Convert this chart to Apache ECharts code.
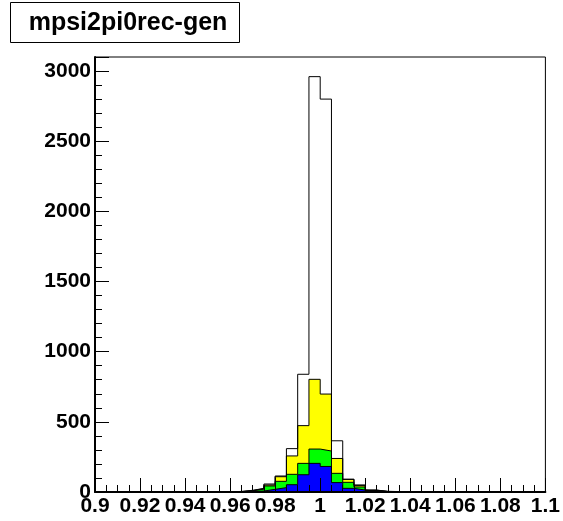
<!DOCTYPE html>
<html>
<head>
<meta charset="utf-8">
<script src="https://cdn.jsdelivr.net/npm/echarts@6/dist/echarts.min.js"></script>
<style>
html, body { margin: 0; padding: 0; background: #fff; }
#chart { width: 563px; height: 521px; }
</style>
</head>
<body>
<div id="chart"></div>
<script>
// Binning: 40 bins of width 0.005 from 0.9 to 1.1
const binLow = 0.9;
const binWidth = 0.005;
const nBins = 40;

// Bin contents for the four overlaid histograms
const totalCounts = [0,0,0,0,0,0,0,0,0,0, 1,2, 4,12,26,57,114,309,839,2960, 2800,365,91,50,14,5,3,2,1,1, 0,0,0,0,0,0,0,0,0,0];
const yellowCounts = [0,0,0,0,0,0,0,0,0,0, 0,1, 3,10,24,50,109,257,473,803, 698,239,90,47,13,4,2,1,0,0, 0,0,0,0,0,0,0,0,0,0];
const greenCounts = [0,0,0,0,0,0,0,0,0,0, 0,1, 2,8,20,43,76,126,204,306, 292,133,69,36,11,3,2,0,0,0, 0,0,0,0,0,0,0,0,0,0];
const blueCounts = [0,0,0,0,0,0,0,0,0,0, 0,0, 1,3,7,19,31,52,123,204, 182,67,26,14,4,1,0,0,0,0, 0,0,0,0,0,0,0,0,0,0];

const titleText = 'mpsi2pi0rec-gen';

// Convert bin contents to step points at the bin edges
function stepPoints(counts) {
  const pts = counts.map((v, i) => [binLow + i * binWidth, v]);
  pts.push([binLow + nBins * binWidth, counts[nBins - 1]]);
  return pts;
}

function histSeries(counts, fill) {
  return {
    type: 'line',
    step: 'end',
    symbol: 'none',
    data: stepPoints(counts),
    lineStyle: { color: '#000', width: 1 },
    areaStyle: { color: fill, opacity: 1 },
    silent: true,
    animation: false
  };
}

const labelFont = { fontFamily: 'Liberation Sans, Arial, sans-serif', fontWeight: 'bold', fontSize: 21, color: '#000' };

const chart = echarts.init(document.getElementById('chart'), null, { renderer: 'canvas' });
chart.setOption({
  animation: false,
  backgroundColor: '#fff',
  grid: { left: 95, right: 15, top: 57, bottom: 29, show: true, borderColor: '#000', borderWidth: 1, backgroundColor: 'transparent' },
  xAxis: {
    type: 'value', min: 0.9, max: 1.1, interval: 0.02, z: 10,
    axisLine: { onZero: false, lineStyle: { color: '#000', width: 2 } },
    axisTick: { inside: true, length: 14, lineStyle: { color: '#000', width: 1 } },
    minorTick: { show: true, splitNumber: 4, length: 7, lineStyle: { color: '#000', width: 1 } },
    splitLine: { show: false },
    axisLabel: Object.assign({ margin: 4, formatter: v => String(parseFloat(v.toFixed(3))) }, labelFont)
  },
  yAxis: {
    type: 'value', min: 0, max: 3100, interval: 500, z: 10,
    axisLine: { lineStyle: { color: '#000', width: 2 } },
    axisTick: { inside: true, length: 14, lineStyle: { color: '#000', width: 1 } },
    minorTick: { show: true, splitNumber: 5, length: 7, lineStyle: { color: '#000', width: 1 } },
    splitLine: { show: false },
    axisLabel: Object.assign({ margin: 4, showMaxLabel: false, formatter: v => String(v) }, labelFont)
  },
  series: [
    histSeries(totalCounts, '#ffffff'),
    histSeries(yellowCounts, '#ffff00'),
    histSeries(greenCounts, '#00ff00'),
    histSeries(blueCounts, '#0000ff')
  ],
  graphic: [
    { type: 'rect', shape: { x: 10.5, y: 2.5, width: 229, height: 40 }, style: { fill: '#fff', stroke: '#000', lineWidth: 1 } },
    { type: 'text', x: 128, y: 23, style: { text: titleText, fontFamily: 'Liberation Sans, Arial, sans-serif', fontWeight: 'bold', fontSize: 25, fill: '#000', align: 'center', verticalAlign: 'middle' } }
  ]
});
</script>
</body>
</html>
